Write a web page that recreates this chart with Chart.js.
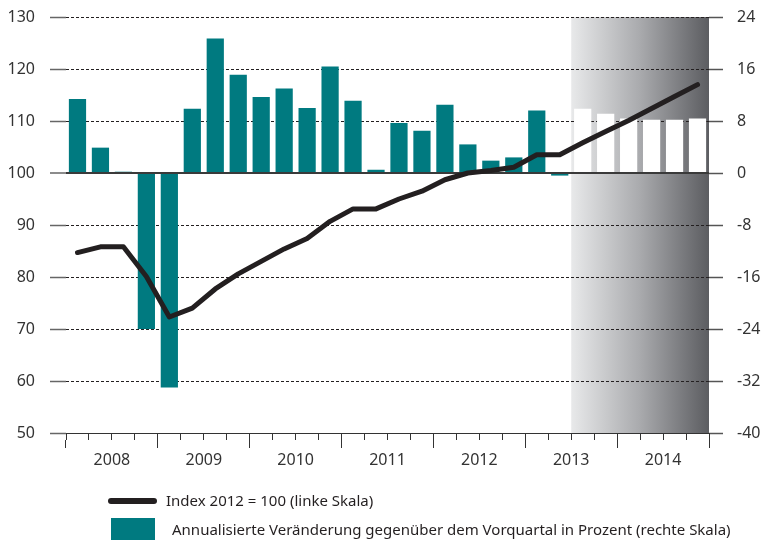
<!DOCTYPE html>
<html>
<head>
<meta charset="utf-8">
<script src="https://cdn.jsdelivr.net/npm/chart.js@4/dist/chart.umd.min.js"></script>
<style>
  html, body { margin: 0; padding: 0; background: #fff; }
  #wrap { position: relative; width: 762px; height: 540px; overflow: hidden; }
  #c { position: absolute; left: 0; top: 0; }
  .leg { position: absolute; font-family: "Noto Sans", sans-serif; font-size: 15px; color: #231f20; white-space: nowrap; line-height: 20px; }
  .swline { position: absolute; background: #231f20; border-radius: 3px; }
  .swbox { position: absolute; background: #007a80; }
</style>
</head>
<body>
<div id="wrap">
  <canvas id="c" width="762" height="540"></canvas>
  <div class="swline" style="left:108px; top:498px; width:49px; height:6px;"></div>
  <div class="leg" id="leg1" style="left:166px; top:490px;">Index 2012 = 100 (linke Skala)</div>
  <div class="swbox" style="left:111px; top:518px; width:44px; height:22px;"></div>
  <div class="leg" id="leg2" style="left:172px; top:519px;">Annualisierte Veränderung gegenüber dem Vorquartal in Prozent (rechte Skala)</div>
</div>
<script>
// ---- data ----
const years = ['2008', '2009', '2010', '2011', '2012', '2013', '2014'];
const quarterNames = ['Q1', 'Q2', 'Q3', 'Q4'];
const quarters = [];
years.forEach(y => quarterNames.forEach(q => quarters.push(y + ' ' + q)));
const indexValues = [84.7, 85.8, 85.8, 80.1, 72.3, 74.0, 77.7, 80.6, 83.0, 85.4, 87.4, 90.7, 93.1, 93.1,
                     95.0, 96.5, 98.7, 100.0, 100.5, 101.1, 103.5, 103.5, 105.8, 108.0, 110.1, 112.4, 114.7, 117.0];
const changeValues = [11.4, 3.9, 0.2, -24.0, -33.0, 9.9, 20.7, 15.1, 11.7, 13.0, 10.0, 16.4, 11.1, 0.5,
                      7.7, 6.5, 10.5, 4.4, 1.9, 2.4, 9.6, -0.4, 9.9, 9.1, 8.4, 8.2, 8.2, 8.4];
const forecastFrom = '2013 Q3';
const leftTicks = [50, 60, 70, 80, 90, 100, 110, 120, 130];
const rightTicks = [-40, -32, -24, -16, -8, 0, 8, 16, 24];

const forecastIdx = quarters.indexOf(forecastFrom);
const TEAL = '#007a80';
const barColors = quarters.map((q, i) => i >= forecastIdx ? '#ffffff' : TEAL);

const FONT = { family: '"Noto Sans", sans-serif', size: 16 };

const shadePlugin = {
  id: 'shade',
  beforeDraw(chart) {
    const { ctx, chartArea } = chart;
    const xs = chart.scales.x;
    const x0 = (xs.getPixelForValue(forecastIdx - 1) + xs.getPixelForValue(forecastIdx)) / 2;
    const x1 = chartArea.right;
    const g = ctx.createLinearGradient(x0, 0, x1, 0);
    g.addColorStop(0, '#e8e9ea');
    g.addColorStop(0.5, '#a9aaad');
    g.addColorStop(1, '#5c5d61');
    ctx.save();
    ctx.fillStyle = g;
    ctx.fillRect(x0, chartArea.top, x1 - x0, chartArea.bottom - chartArea.top);
    ctx.restore();
  },
  afterDatasetDraw(chart, args) {
    if (args.index !== 1) return;
    const { ctx, chartArea } = chart;
    const y = chart.scales.y.getPixelForValue(100);
    ctx.save();
    ctx.strokeStyle = '#3a3a3a';
    ctx.lineWidth = 2;
    ctx.beginPath();
    ctx.moveTo(chartArea.left, y);
    ctx.lineTo(chartArea.right, y);
    ctx.stroke();
    ctx.restore();
  }
};

function noPad(s) { s.paddingTop = 0; s.paddingBottom = 0; }

new Chart(document.getElementById('c'), {
  data: {
    labels: quarters,
    datasets: [
      {
        type: 'line',
        label: 'Index 2012 = 100 (linke Skala)',
        data: indexValues,
        yAxisID: 'y',
        xAxisID: 'x',
        borderColor: '#231f20',
        borderWidth: 5,
        pointRadius: 0,
        tension: 0,
        borderCapStyle: 'round',
        borderJoinStyle: 'round',
        order: 1
      },
      {
        type: 'bar',
        label: 'Annualisierte Veränderung gegenüber dem Vorquartal in Prozent (rechte Skala)',
        data: changeValues,
        yAxisID: 'y2',
        xAxisID: 'x',
        backgroundColor: barColors,
        borderWidth: 0,
        categoryPercentage: 1,
        barPercentage: 0.75,
        order: 2
      }
    ]
  },
  options: {
    responsive: false,
    animation: false,
    devicePixelRatio: 1,
    layout: { padding: { top: 17, left: 0, right: 0, bottom: 0 } },
    plugins: { legend: { display: false }, tooltip: { enabled: false } },
    scales: {
      x: {
        type: 'category',
        position: 'bottom',
        weight: 0,
        offset: true,
        grid: { offset: true, drawOnChartArea: false, drawTicks: true, tickLength: 7, tickColor: '#333', tickWidth: 1 },
        border: { display: true, color: '#333', width: 1 },
        ticks: { display: false },
        afterFit(s) { s.height = 7; }
      },
      xYear: {
        type: 'category',
        labels: years,
        position: 'bottom',
        weight: 1,
        offset: true,
        grid: { offset: true, drawOnChartArea: false, drawTicks: true, tickLength: 8, tickColor: '#333', tickWidth: 1 },
        border: { display: false },
        ticks: { color: '#333', font: FONT, padding: 3, maxRotation: 0, autoSkip: false },
        afterFit(s) { s.height = 100; }
      },
      y: {
        type: 'linear',
        position: 'left',
        min: 50, max: 130,
        afterBuildTicks(s) { s.ticks = leftTicks.map(v => ({ value: v })); },
        grid: {
          color: c => (c.tick && c.tick.value === 50) ? 'rgba(0,0,0,0)' : (c.tick && c.tick.value === 100 ? '#3a3a3a' : '#231f20'),
          lineWidth: c => (c.tick && c.tick.value === 100) ? 2 : 1,
          drawTicks: true, tickLength: 16, tickColor: '#666', tickWidth: 1.5, tickBorderDash: []
        },
        border: { display: false, dash: c => (c.tick && c.tick.value === 100) ? [] : [3, 2] },
        ticks: { color: '#333', font: FONT, padding: 15 },
        afterFit(s) { s.width = 66; noPad(s); }
      },
      y2: {
        type: 'linear',
        position: 'right',
        min: -40, max: 24,
        afterBuildTicks(s) { s.ticks = rightTicks.map(v => ({ value: v })); },
        grid: { drawOnChartArea: false, drawTicks: true, tickLength: 14, tickColor: '#555', tickWidth: 1.5 },
        border: { display: false },
        ticks: { color: '#333', font: FONT, padding: 14 },
        afterFit(s) { s.width = 53; noPad(s); }
      }
    }
  },
  plugins: [shadePlugin]
});
</script>
</body>
</html>
